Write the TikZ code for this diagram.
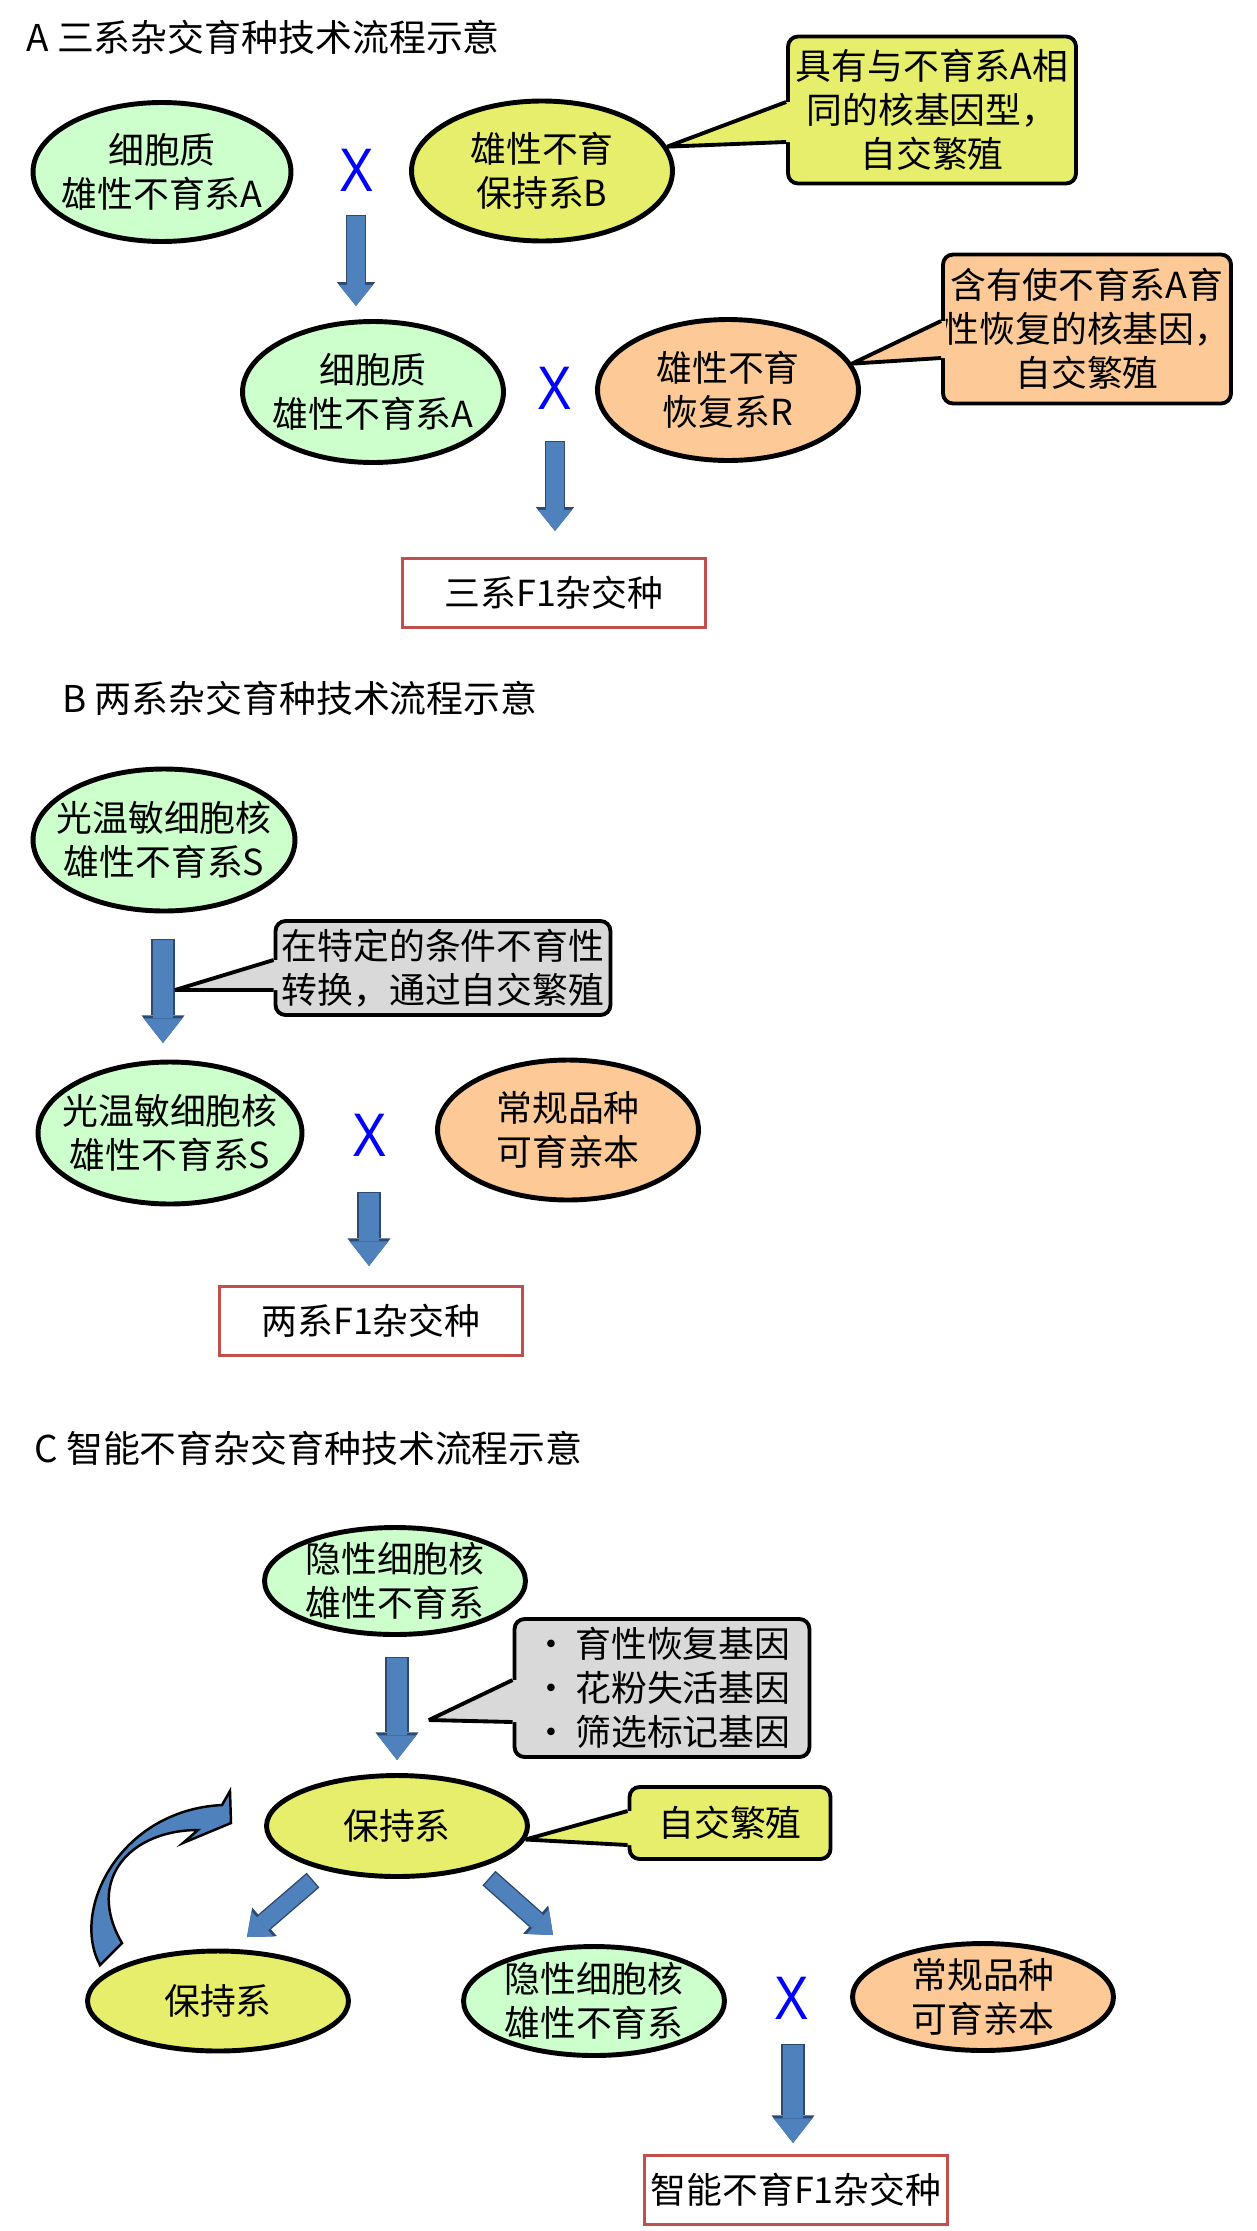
\documentclass[tikz,border=0pt]{standalone}
\usepackage{fontspec}
\setmainfont{Noto Sans CJK SC}
\newfontfamily\crossfont{Liberation Sans}
\usetikzlibrary{shapes.geometric, arrows.meta}

\definecolor{cellgreen}{HTML}{CCFFCC}
\definecolor{keepyellow}{HTML}{E6EE6B}
\definecolor{restorange}{HTML}{FCC997}
\definecolor{notegray}{HTML}{D9D9D9}
\definecolor{boxred}{HTML}{C0504D}
\definecolor{arrowblue}{HTML}{4F81BD}
\definecolor{arrowedge}{HTML}{2C4A70}
\definecolor{xblue}{HTML}{0000FF}

\newcommand{\crossmark}{\scalebox{0.84}[1]{X}}

\tikzset{
  txt/.style={font=\fontsize{20.4}{25}\selectfont},
  cell/.style={ellipse, draw, line width=2.8pt, minimum width=5.22cm, minimum height=2.8cm, inner sep=-10pt, align=center, txt},
  flat/.style={cell, minimum height=2.1cm},
  note/.style={draw, line width=2.2pt, rounded corners=0.2cm, inner sep=0pt, align=center, txt},
  tail/.style={line width=2.2pt, line join=bevel},
  hybrid/.style={draw=boxred, line width=1.7pt, minimum width=6.06cm, minimum height=1.38cm, txt},
  cross/.style={text=xblue, font=\crossfont\fontsize{35}{35}\selectfont, inner sep=0pt},
  heading/.style={anchor=west, inner sep=0pt, font=\fontsize{21}{25}\selectfont},
  flowA/.style={draw=arrowblue, line width=9.7pt, -{Triangle[width=19.3pt,length=12pt,line width=0pt]},
    preaction={draw=arrowedge, line width=11.3pt, shorten <=-0.8pt, -{Triangle[width=21.8pt,length=13.6pt,line width=0pt]}}},
  flow/.style={draw=arrowblue, line width=11.6pt, -{Triangle[width=22pt,length=14pt,line width=0pt]},
    preaction={draw=arrowedge, line width=13.2pt, shorten <=-0.8pt, -{Triangle[width=24.6pt,length=15.8pt,line width=0pt]}}},
  flowD/.style={draw=arrowblue, line width=9.5pt, -{Triangle[width=19pt,length=11.5pt,line width=0pt]},
    preaction={draw=arrowedge, line width=11.1pt, shorten <=-0.8pt, -{Triangle[width=21.5pt,length=13.2pt,line width=0pt]}}},
}

\begin{document}
\begin{tikzpicture}[x=0.02cm, y=-0.02cm]
\useasboundingbox (0,0) rectangle (1257,2231);

% A
\node[heading] (tA) at (26,37) {A 三系杂交育种技术流程示意};
\node[cell, fill=cellgreen, minimum width=5.16cm, minimum height=2.78cm] (cA1) at (162,172) {细胞质\\雄性不育系A};
\node[cross] (xA1) at (357,170) {\crossmark};
\node[cell, fill=keepyellow] (kB) at (542,171) {雄性不育\\保持系B};
\node[note, fill=keepyellow, minimum width=5.76cm, minimum height=2.94cm] (nA1) at (932,110) {具有与不育系A相\\同的核基因型，\\自交繁殖};
\fill[keepyellow] (nA1.west |- 0,102) -- (kB.11) -- (nA1.west |- 0,142) -- ++(5,0) -- ++(0,-40) -- cycle;
\draw[tail] (nA1.west |- 0,102) -- (kB.11) -- (nA1.west |- 0,142);
\coordinate (a1s) at (356,216);
\coordinate (a1e) at (356,306);
\draw[flowA] (a1s) -- (a1e);

\node[cell, fill=cellgreen, minimum height=2.82cm] (cA2) at (373,392) {细胞质\\雄性不育系A};
\node[cross] (xA2) at (555,388) {\crossmark};
\node[cell, fill=restorange, minimum height=2.82cm] (rR) at (728,390) {雄性不育\\恢复系R};
\node[note, fill=restorange, minimum width=5.76cm, minimum height=2.98cm] (nA2) at (1087,329) {含有使不育系A育\\性恢复的核基因，\\自交繁殖};
\fill[restorange] (nA2.west |- 0,321) -- (rR.12) -- (nA2.west |- 0,358) -- ++(5,0) -- ++(0,-37) -- cycle;
\draw[tail] (nA2.west |- 0,321) -- (rR.12) -- (nA2.west |- 0,358);
\coordinate (a2s) at (555,442);
\coordinate (a2e) at (555,531);
\draw[flowA] (a2s) -- (a2e);
\node[hybrid] (fA) at (554,593) {三系F1杂交种};

% B
\node[heading] (tB) at (62,698) {B 两系杂交育种技术流程示意};
\node[cell, fill=cellgreen, minimum width=5.24cm, minimum height=2.84cm] (sB1) at (164,840) {光温敏细胞核\\雄性不育系S};
\coordinate (b1s) at (163,940);
\coordinate (b1e) at (163,1043);
\draw[flow] (b1s) -- (b1e);
\node[note, fill=notegray, minimum width=6.7cm, minimum height=1.88cm] (nB) at (443,968) {在特定的条件不育性\\转换，通过自交繁殖};
\coordinate (bt) at (175,990);
\fill[notegray] (nB.west |- 0,960) -- (bt) -- (nB.west |- 0,990) -- ++(5,0) -- ++(0,-30) -- cycle;
\draw[tail] (nB.west |- 0,960) -- (bt) -- (nB.west |- 0,990);
\node[cell, fill=cellgreen, minimum width=5.28cm, minimum height=2.84cm] (sB2) at (170,1133) {光温敏细胞核\\雄性不育系S};
\node[cross] (xB) at (370,1135) {\crossmark};
\node[cell, fill=restorange] (pB) at (568,1130) {常规品种\\可育亲本};
\coordinate (b2s) at (369,1193);
\coordinate (b2e) at (369,1266);
\draw[flow] (b2s) -- (b2e);
\node[hybrid] (fB) at (371,1321) {两系F1杂交种};

% C
\node[heading] (tC) at (34,1448) {C 智能不育杂交育种技术流程示意};
\node[flat, fill=cellgreen, minimum height=2.14cm] (rC1) at (395,1581) {隐性细胞核\\雄性不育系};
\coordinate (c1s) at (397,1658);
\coordinate (c1e) at (397,1760);
\draw[flow] (c1s) -- (c1e);
\node[note, fill=notegray, minimum width=5.9cm, minimum height=2.76cm, align=left] (nC1) at (662,1688) {·\,育性恢复基因\\·\,花粉失活基因\\·\,筛选标记基因};
\coordinate (ct) at (429,1720);
\fill[notegray] (nC1.west |- 0,1680) -- (ct) -- (nC1.west |- 0,1722) -- ++(5,0) -- ++(0,-42) -- cycle;
\draw[tail] (nC1.west |- 0,1680) -- (ct) -- (nC1.west |- 0,1722);

\node[flat, fill=keepyellow, minimum height=2.02cm] (kC1) at (397,1826) {保持系};
\node[note, fill=keepyellow, minimum width=4.02cm, minimum height=1.44cm] (nC2) at (730,1823) {自交繁殖};
\fill[keepyellow] (nC2.west |- 0,1811) -- (kC1.-6) -- (nC2.west |- 0,1845) -- ++(5,0) -- ++(0,-34) -- cycle;
\draw[tail] (nC2.west |- 0,1811) -- (kC1.-6) -- (nC2.west |- 0,1845);

\coordinate (c2s) at (312,1881);
\coordinate (c2e) at (247,1937);
\draw[flowD] (c2s) -- (c2e);
\coordinate (c3s) at (490,1879);
\coordinate (c3e) at (553,1935);
\draw[flowD] (c3s) -- (c3e);

\node[flat, fill=keepyellow, minimum height=2.0cm] (kC2) at (218,2001) {保持系};
\node[flat, fill=cellgreen, minimum height=2.18cm] (rC2) at (594,2001) {隐性细胞核\\雄性不育系};
\node[cross] (xC) at (792,1998) {\crossmark};
\node[flat, fill=restorange, minimum height=2.14cm] (pC) at (983,1997) {常规品种\\可育亲本};

\filldraw[fill=arrowblue, draw=black, line width=1.4pt, line join=miter]
  (100,1965) .. controls (70,1910) and (120,1810) .. (222,1805) -- (230,1791) -- (231,1823)
  -- (183,1843) -- (198,1830) .. controls (130,1830) and (85,1880) .. (122,1943) -- cycle;

\coordinate (c4s) at (793,2045);
\coordinate (c4e) at (793,2143);
\draw[flow] (c4s) -- (c4e);
\node[hybrid] (fC) at (796,2190) {智能不育F1杂交种};
\end{tikzpicture}
\end{document}
